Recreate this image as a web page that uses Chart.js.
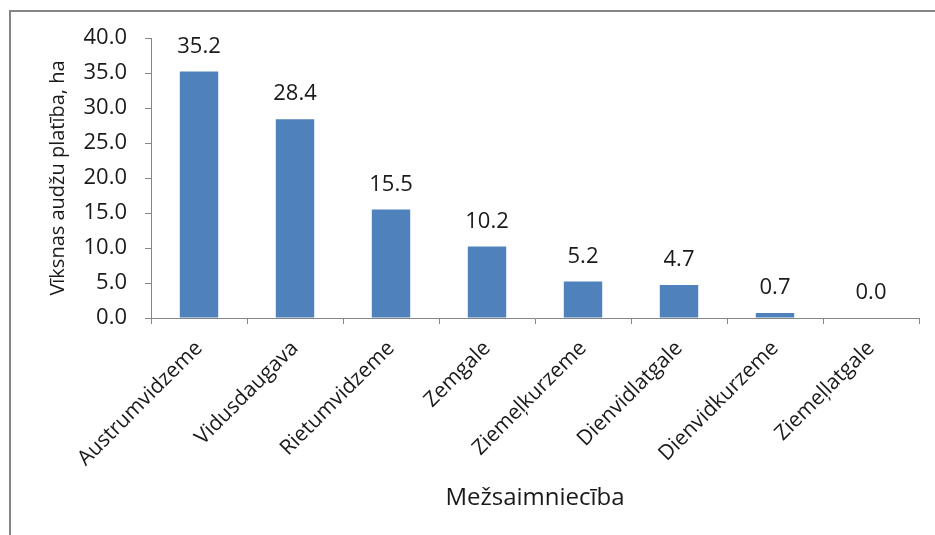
<!DOCTYPE html>
<html>
<head>
<meta charset="utf-8">
<script src="https://cdn.jsdelivr.net/npm/chart.js@4/dist/chart.umd.min.js"></script>
<style>
  html, body { margin: 0; padding: 0; background: #fff; }
  #wrap { width: 935px; height: 535px; position: relative; }
</style>
</head>
<body>
<div id="wrap"><canvas id="c" width="935" height="535"></canvas></div>
<script>
const categories = ["Austrumvidzeme", "Vidusdaugava", "Rietumvidzeme", "Zemgale", "Ziemeļkurzeme", "Dienvidlatgale", "Dienvidkurzeme", "Ziemeļlatgale"];
const values = [35.2, 28.4, 15.5, 10.2, 5.2, 4.7, 0.7, 0.0];
const yTitle = "Vīksnas audžu platība, ha";
const xTitle = "Mežsaimniecība";

const FONT = "'Open Sans'";
const AXIS = "#868686";
const TEXT = "#1a1a1a";

const framePlugin = {
  id: 'frame',
  beforeDraw(chart) {
    const ctx = chart.ctx;
    ctx.save();
    ctx.fillStyle = '#fff';
    ctx.fillRect(0, 0, chart.width, chart.height);
    ctx.strokeStyle = AXIS;
    ctx.lineWidth = 2;
    ctx.strokeRect(10, 11, 2000, 2000);
    ctx.restore();
  }
};

const labelPlugin = {
  id: 'valueLabels',
  afterDatasetsDraw(chart) {
    const ctx = chart.ctx;
    const meta = chart.getDatasetMeta(0);
    ctx.save();
    ctx.font = "22px " + FONT;
    ctx.fillStyle = TEXT;
    ctx.textAlign = "center";
    ctx.textBaseline = "alphabetic";
    meta.data.forEach((bar, i) => {
      ctx.fillText(values[i].toFixed(1), bar.x, bar.y - 19);
    });
    ctx.restore();
  }
};

new Chart(document.getElementById('c'), {
  type: 'bar',
  data: {
    labels: categories,
    datasets: [{
      data: values,
      backgroundColor: "#4F81BD",
      borderWidth: 0,
      barPercentage: 0.4,
      categoryPercentage: 1.0
    }]
  },
  options: {
    responsive: false,
    animation: false,
    devicePixelRatio: 1,
    layout: { padding: { left: 0, top: 38, right: 16, bottom: 0 } },
    plugins: { legend: { display: false }, tooltip: { enabled: false } },
    scales: {
      x: {
        grid: { display: true, drawOnChartArea: false, drawTicks: true, tickLength: 6, color: AXIS, offset: true },
        border: { display: true, color: AXIS, width: 1 },
        ticks: { color: TEXT, font: { family: FONT, size: 21 }, minRotation: 45, maxRotation: 45, autoSkip: false, padding: 12 },
        title: { display: true, text: xTitle, color: TEXT, font: { family: FONT, size: 24 }, padding: { top: 0, bottom: 22 } },
        afterFit(scale) { scale.height = 535 - 318; }
      },
      y: {
        min: 0, max: 40,
        grid: { display: true, drawOnChartArea: false, drawTicks: true, tickLength: 6, color: AXIS },
        border: { display: true, color: AXIS, width: 1 },
        ticks: { stepSize: 5, color: TEXT, font: { family: FONT, size: 22 }, padding: 18, callback: v => Number(v).toFixed(1) },
        title: { display: true, text: yTitle, color: TEXT, font: { family: FONT, size: 20 }, padding: { top: 46, bottom: 0 } },
        afterFit(scale) { scale.width = 151; }
      }
    }
  },
  plugins: [framePlugin, labelPlugin]
});
</script>
</body>
</html>
